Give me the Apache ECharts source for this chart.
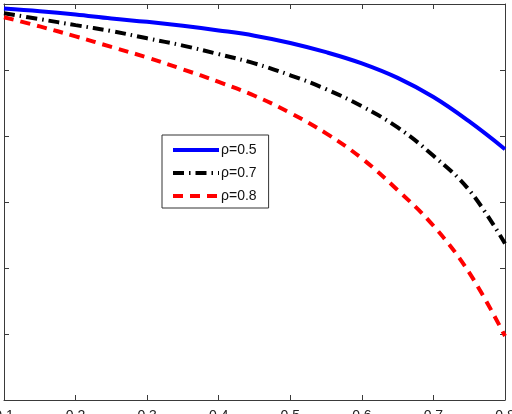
<!DOCTYPE html>
<html>
<head>
<meta charset="utf-8">
<script src="https://cdn.jsdelivr.net/npm/echarts@6/dist/echarts.min.js"></script>
<style>
  html, body { margin: 0; padding: 0; background: #fff; }
  #chart { width: 512px; height: 414px; }
</style>
</head>
<body>
<div id="chart"></div>
<script>
// x positions (0.1 .. 0.8)
var xs = [0.10, 0.15, 0.20, 0.25, 0.30, 0.35, 0.40, 0.45, 0.50, 0.55, 0.60, 0.65, 0.70, 0.75, 0.80];

// curves
var rho05 = [0.993, 0.989, 0.984, 0.978, 0.973, 0.967, 0.960, 0.952, 0.941, 0.927, 0.910, 0.888, 0.859, 0.822, 0.780];
var rho07 = [0.986, 0.977, 0.968, 0.959, 0.948, 0.937, 0.924, 0.910, 0.892, 0.871, 0.845, 0.813, 0.770, 0.718, 0.637];
var rho08 = [0.980, 0.966, 0.951, 0.935, 0.919, 0.901, 0.882, 0.861, 0.835, 0.804, 0.766, 0.718, 0.664, 0.593, 0.497];

var names = ['ρ=0.5', 'ρ=0.7', 'ρ=0.8'];

function pairs(ys) {
  return xs.map(function (x, i) { return [x, ys[i]]; });
}

var chart = echarts.init(document.getElementById('chart'), null, { renderer: 'canvas' });

var axisCol = '#3a3a3a';

var option = {
  animation: false,
  backgroundColor: '#fff',
  textStyle: { fontFamily: 'Liberation Sans, Arial, sans-serif' },
  grid: { left: 4, right: 7, top: 4, bottom: 14, containLabel: false, outerBoundsMode: 'none' },
  legend: {
    data: names,
    orient: 'vertical',
    left: 162,
    top: 135,
    padding: [8, 12, 5, 9],
    itemWidth: 46,
    itemHeight: 14,
    itemGap: 9,
    backgroundColor: '#fff',
    borderColor: '#333',
    borderWidth: 1,
    borderRadius: 0,
    itemStyle: { opacity: 0 },
    lineStyle: { width: 4 },
    textStyle: { fontSize: 14, color: '#111', padding: [0, 0, 0, -3] }
  },
  xAxis: [{
    type: 'value',
    position: 'bottom',
    min: 0.1, max: 0.8, interval: 0.1,
    axisLine: { show: true, onZero: false, lineStyle: { color: axisCol, width: 1 } },
    axisTick: { show: true, inside: true, length: 5, lineStyle: { color: axisCol } },
    axisLabel: {
      show: true, margin: 9, fontSize: 14, color: '#222',
      showMinLabel: true, showMaxLabel: true, hideOverlap: false,
      formatter: function (v) { return v.toFixed(1); }
    },
    splitLine: { show: false }
  }, {
    type: 'value',
    position: 'top',
    min: 0.1, max: 0.8, interval: 0.1,
    axisLine: { show: true, onZero: false, lineStyle: { color: axisCol, width: 1 } },
    axisTick: { show: true, inside: true, length: 5, lineStyle: { color: axisCol } },
    axisLabel: { show: false },
    splitLine: { show: false }
  }],
  yAxis: [{
    type: 'value',
    position: 'left',
    min: 0.4, max: 1.0, interval: 0.1,
    axisLine: { show: true, onZero: false, lineStyle: { color: axisCol, width: 1 } },
    axisTick: { show: true, inside: true, length: 5, lineStyle: { color: axisCol } },
    axisLabel: { show: false },
    splitLine: { show: false }
  }, {
    type: 'value',
    position: 'right',
    min: 0.4, max: 1.0, interval: 0.1,
    axisLine: { show: true, onZero: false, lineStyle: { color: axisCol, width: 1 } },
    axisTick: { show: true, inside: true, length: 5, lineStyle: { color: axisCol } },
    axisLabel: { show: false },
    splitLine: { show: false }
  }],
  series: [{
    name: names[0],
    type: 'line',
    smooth: 0.4,
    symbol: 'none',
    color: '#0000ff',
    lineStyle: { color: '#0000ff', width: 4 },
    data: pairs(rho05)
  }, {
    name: names[1],
    type: 'line',
    smooth: 0.4,
    symbol: 'none',
    color: '#000000',
    lineStyle: { color: '#000000', width: 4, type: [11, 5, 1.5, 5] },
    data: pairs(rho07)
  }, {
    name: names[2],
    type: 'line',
    smooth: 0.4,
    symbol: 'none',
    color: '#ff0000',
    lineStyle: { color: '#ff0000', width: 4, type: [10, 7] },
    data: pairs(rho08)
  }]
};

chart.setOption(option);
</script>
</body>
</html>
